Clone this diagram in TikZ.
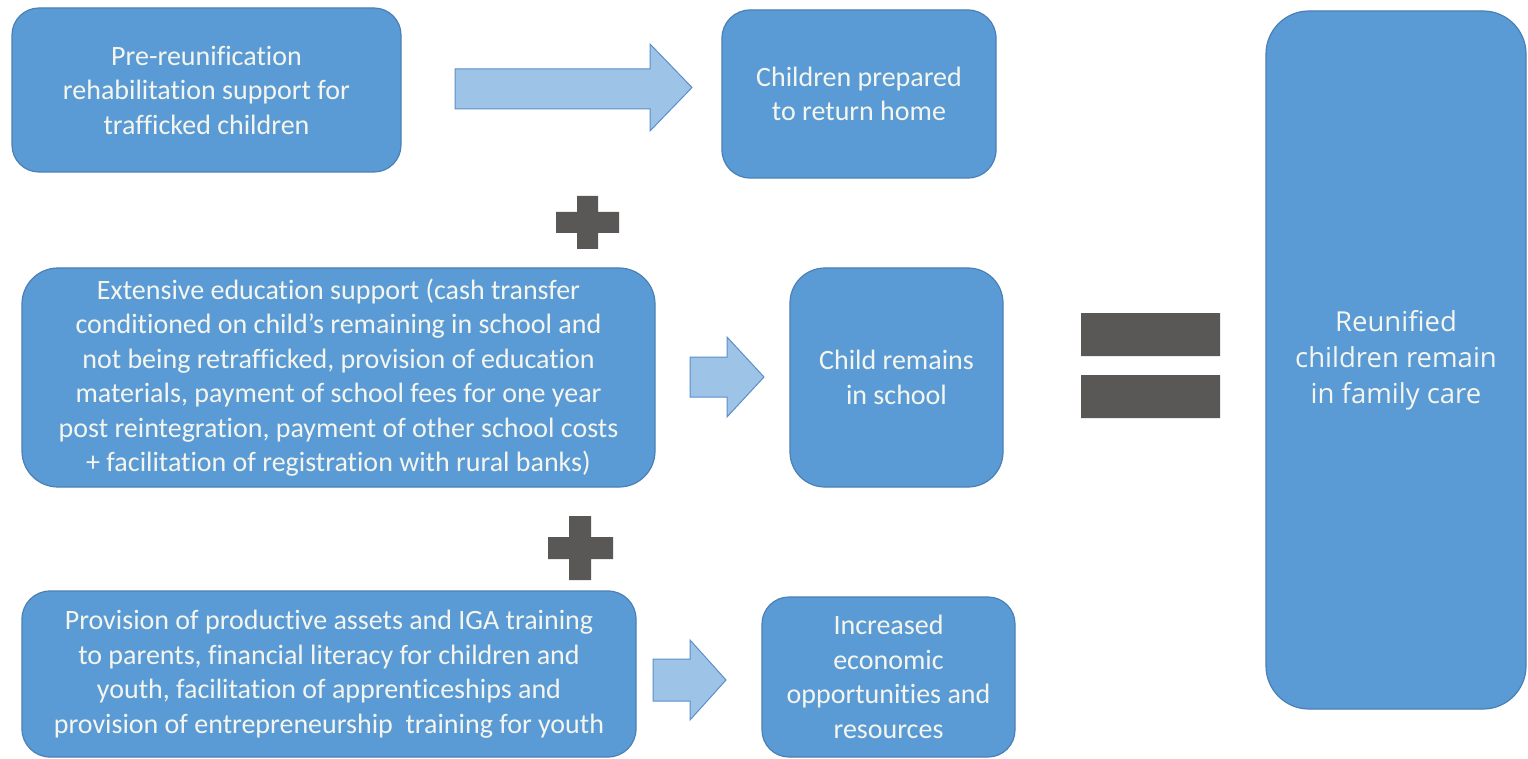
\documentclass[tikz,border=0pt]{standalone}
\usepackage{fontspec}
\setmainfont[Ligatures=NoCommon,RawFeature={-liga;-clig;-calt;-dlig}]{Carlito}
\newfontfamily\efont{Open Sans}
\definecolor{boxblue}{HTML}{5B9BD5}
\definecolor{boxedge}{HTML}{4A80B5}
\definecolor{arrowfill}{HTML}{9DC3E6}
\definecolor{arrowedge}{HTML}{5B8FC9}
\definecolor{opgray}{HTML}{5A5757}
\definecolor{txt}{HTML}{F4F6EE}
\begin{document}
\begin{tikzpicture}[x=1pt,y=-1pt,
  box/.style={draw=boxedge, line width=1.2pt, fill=boxblue, text=txt, align=center,
    inner sep=0pt, font=\fontsize{28}{34.5}\selectfont},
  barrow/.style={draw=arrowedge, line width=1pt, fill=arrowfill},
  opsym/.style={fill=opgray}]
\useasboundingbox (0,0) rectangle (1528,759);
\fill[white] (0,0) rectangle (1528,759);

\node[box, minimum width=389pt, minimum height=164pt, rounded corners=27pt] (prerehab) at (206.5,90)
  {\raisebox{-2pt}{\parbox{380pt}{\centering Pre-reunification\\rehabilitation support for\\trafficked children}}};
\node[box, minimum width=274pt, minimum height=168pt, rounded corners=28pt] (prepared) at (859,94)
  {Children prepared\\to return home};
\node[box, minimum width=633pt, minimum height=219pt, rounded corners=36pt] (edu) at (338.5,377.5)
  {Extensive education support (cash transfer\\conditioned on child’s remaining in school and\\not being retrafficked, provision of education\\materials, payment of school fees for one year\\post reintegration, payment of other school costs\\+ facilitation of registration with rural banks)};
\node[box, minimum width=213pt, minimum height=219pt, rounded corners=35pt] (school) at (896.5,377.5)
  {Child remains\\in school};
\node[box, minimum width=260pt, minimum height=698pt, rounded corners=43pt,
  font=\efont\fontsize{27.5}{36}\selectfont] (family) at (1396,360)
  {Reunified\\children remain\\in family care};
\node[box, minimum width=614pt, minimum height=166pt, rounded corners=28pt] (assets) at (329,674)
  {Provision of productive assets and IGA training\\to parents, financial literacy for children and\\youth, facilitation of apprenticeships and\\provision of entrepreneurship\ \ training for youth};
\node[box, minimum width=253pt, minimum height=160pt, rounded corners=27pt] (econ) at (888.5,677)
  {Increased\\economic\\opportunities and\\resources};

% block arrows
\draw[barrow] (455,69) -- (650,69) -- (650,44) -- (692,87.5) -- (650,131) -- (650,109) -- (455,109) -- cycle;
\draw[barrow] (690,357) -- (727,357) -- (727,337) -- (764,377) -- (727,417) -- (727,397) -- (690,397) -- cycle;
\draw[barrow] (653,659) -- (690,659) -- (690,640) -- (726,680) -- (690,720) -- (690,701) -- (653,701) -- cycle;

% plus signs
\fill[opsym] (577,196) rectangle (598,249) (556,212) rectangle (619,233);
\fill[opsym] (569,516) rectangle (591,580) (548,537) rectangle (613,559);
% equals sign
\fill[opsym] (1081,313) rectangle (1220,356) (1081,375) rectangle (1220,418);
\end{tikzpicture}
\end{document}
